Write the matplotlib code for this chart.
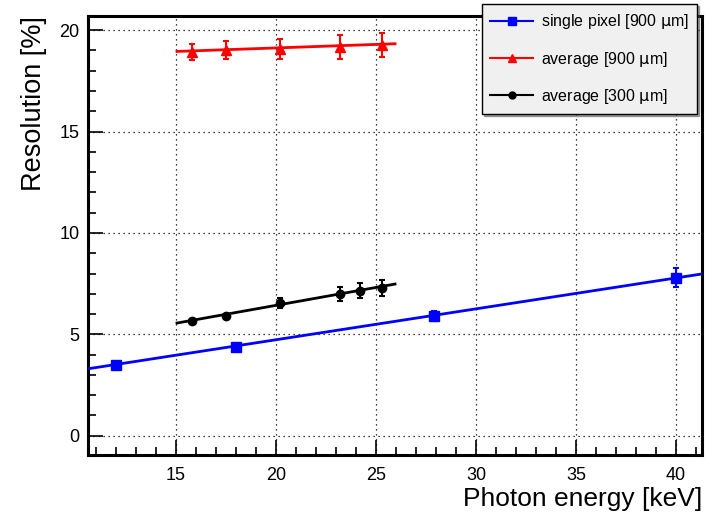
import numpy as np
import matplotlib
matplotlib.use("Agg")
from matplotlib import pyplot as plt
from matplotlib.ticker import MultipleLocator

plt.rcParams['font.family'] = ['Liberation Sans', 'DejaVu Sans']

# single pixel [900 um]
sp_x = [12.0, 18.0, 27.9, 40.0]
sp_y = [3.5, 4.38, 5.92, 7.8]
sp_err = [0.1, 0.1, 0.25, 0.45]
sp_fit = (1.685, 0.1524)   # intercept, slope

# average [900 um]
a9_x = [15.8, 17.5, 20.2, 23.2, 25.3]
a9_y = [18.92, 19.01, 19.09, 19.16, 19.26]
a9_err = [0.4, 0.45, 0.5, 0.6, 0.6]
a9_fit = (18.43, 0.0348)

# average [300 um]
a3_x = [15.8, 17.5, 20.2, 23.2, 24.2, 25.3]
a3_y = [5.68, 5.91, 6.53, 7.0, 7.16, 7.3]
a3_err = [0.08, 0.08, 0.25, 0.35, 0.35, 0.4]
a3_fit = (2.90, 0.1765)

fig = plt.figure(figsize=(7.05, 5.17), dpi=100)
ax = fig.add_axes([0.1248, 0.12, 0.871, 0.849])
ax.set_xlim(10.6, 41.3)
ax.set_ylim(-0.95, 20.7)

def draw(x, y, err, fit, xr, color, marker, ms, label):
    xs = np.array(xr)
    ax.plot(xs, fit[0] + fit[1] * xs, color=color, lw=2, zorder=3)
    ax.errorbar(x, y, yerr=err, fmt=marker, color=color, ms=ms, elinewidth=1.5,
                capsize=2, capthick=1.5, zorder=4)
    ax.plot([], [], color=color, marker=marker, ms=ms - 1, lw=1.5, label=label)

draw(sp_x, sp_y, sp_err, sp_fit, [10.6, 41.3], 'blue', 's', 7, 'single pixel [900 $\\mathrm{\\mu}$m]')
draw(a9_x, a9_y, a9_err, a9_fit, [15.05, 25.95], 'red', '^', 6.5, 'average [900 $\\mathrm{\\mu}$m]')
draw(a3_x, a3_y, a3_err, a3_fit, [15.05, 25.95], 'black', 'o', 6, 'average [300 $\\mathrm{\\mu}$m]')

ax.xaxis.set_major_locator(MultipleLocator(5))
ax.xaxis.set_minor_locator(MultipleLocator(1))
ax.yaxis.set_major_locator(MultipleLocator(5))
ax.yaxis.set_minor_locator(MultipleLocator(1))
ax.tick_params(which='both', direction='in', labelsize=13, width=1.2)
ax.tick_params(which='major', length=11)
ax.tick_params(which='minor', length=6)
ax.tick_params(axis='x', pad=9)
ax.tick_params(axis='y', pad=6)
ax.grid(True, which='major', color='black', linestyle=(0, (1, 3)), lw=0.9)
for s in ax.spines.values():
    s.set_linewidth(2.2)

ax.set_xlabel('Photon energy [keV]', fontsize=19, loc='right', labelpad=2)
ax.set_ylabel('Resolution [%]', fontsize=19.5, loc='top', labelpad=9)

leg = ax.legend(loc='upper right', bbox_to_anchor=(0.992, 1.027), fontsize=11.5,
                fancybox=False, shadow={'ox': 1.5, 'oy': -1.5, 'color': '0.3'},
                framealpha=1, edgecolor='black',
                facecolor='#f0f0f0', handlelength=2.7, handletextpad=0.5,
                labelspacing=1.15, borderpad=0.5, borderaxespad=0)
leg.get_frame().set_linewidth(1.0)

fig.savefig('out.png', dpi=100)
